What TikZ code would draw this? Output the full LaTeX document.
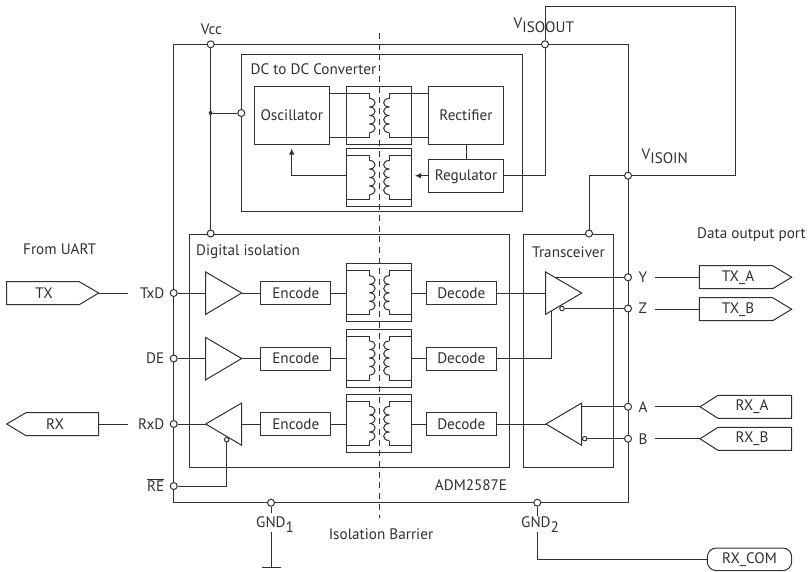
\documentclass[tikz,border=0pt]{standalone}
\usepackage{fontspec}
\usetikzlibrary{arrows.meta}
\setmainfont{PT Sans}
\definecolor{ink}{HTML}{303030}
\tikzset{
  wire/.style={draw=ink,line width=1pt},
  lbl/.style={text=ink,inner sep=0pt,font=\fontsize{15.2}{17}\selectfont},
  box/.style={draw=ink,line width=1pt,fill=white,inner sep=0pt,text=ink,font=\fontsize{15.2}{17}\selectfont},
  codec/.style={box,minimum width=70pt,minimum height=23pt},
  xbox/.style={draw=ink,line width=1pt,inner sep=0pt,minimum width=65pt,minimum height=58pt},
  pin/.style={circle,draw=ink,line width=1pt,fill=white,inner sep=0pt,minimum size=7pt},
  bub/.style={circle,draw=ink,line width=1pt,fill=white,inner sep=0pt,minimum size=4.5pt},
  dotpt/.style={circle,fill=ink,inner sep=0pt,minimum size=4pt},
  barrier/.style={draw=ink,line width=1pt,dash pattern=on 6pt off 4.7pt},
}
\newcommand{\xfmr}[2]{% name, ymid
  \node[xbox] (#1) at (379.2,#2) {};
  \draw[wire] (346.7,#2-22) -- (369.5,#2-22) -- (369.5,#2-17);
  \draw[wire] (346.7,#2+22) -- (369.5,#2+22) -- (369.5,#2+17);
  \draw[wire] (411.7,#2-22) -- (389.3,#2-22) -- (389.3,#2-17);
  \draw[wire] (411.7,#2+22) -- (389.3,#2+22) -- (389.3,#2+17);
  \foreach \k in {0,1,2,3}{
    \pgfmathsetmacro\ya{#2-17+8.5*\k}
    \pgfmathsetmacro\yb{\ya+8.5}
    \draw[wire] (369.5,\ya) .. controls (377,\ya) and (377,\yb) .. (369.5,\yb);
    \draw[wire] (389.3,\ya) .. controls (381.8,\ya) and (381.8,\yb) .. (389.3,\yb);
  }
}
\begin{document}
\begin{tikzpicture}[x=1pt,y=-1pt]
\useasboundingbox (0,0) rectangle (812,571);
% enclosures
\draw[wire] (173.7,44.3) rectangle (628,502.7);
\node[box,fill=none,anchor=north west,minimum width=280.4pt,minimum height=157pt] (dc) at (241.3,54) {};
\node[box,fill=none,anchor=north west,minimum width=319.7pt,minimum height=233.5pt] (dig) at (189,233.5) {};
\node[box,fill=none,anchor=north west,minimum width=90.3pt,minimum height=233.5pt] (trx) at (522.7,233.5) {};
% pins
\node[pin] (pvcc) at (210.7,44.3) {};
\node[pin] (piso) at (545,44.3) {};
\node[pin] (pin2) at (628,175.7) {};
\node[pin] (pdig) at (210.7,233.5) {};
\node[pin] (ptrx) at (589,233.5) {};
\node[pin] (pdc) at (241.3,113) {};
\node[dotpt] (vdot) at (210.7,113) {};
\node[pin] (ptxd) at (173.7,293) {};
\node[pin] (pde) at (173.7,358.5) {};
\node[pin] (prxd) at (173.7,424) {};
\node[pin] (pre) at (173.7,486) {};
\node[pin] (py) at (628,277.3) {};
\node[pin] (pz) at (628,308.5) {};
\node[pin] (pa) at (628,406.7) {};
\node[pin] (pb) at (628,438.7) {};
\node[pin] (pg1) at (271,502.7) {};
\node[pin] (pg2) at (537.3,502.7) {};
% DC-DC blocks
\node[box,minimum width=75pt,minimum height=57.7pt] (osc) at (291.8,115.2) {Oscillator};
\node[box,minimum width=74.6pt,minimum height=57.7pt] (rect) at (466,115.2) {Rectifier};
\node[box,minimum width=74.6pt,minimum height=32.7pt] (reg) at (466,176.3) {Regulator};
\xfmr{x1}{115.5}
\xfmr{x2}{177.5}
\draw[wire] (329.3,93.5) -- (346.7,93.5);
\draw[wire] (329.3,137.5) -- (346.7,137.5);
\draw[wire] (411.7,93.5) -- (428.7,93.5);
\draw[wire] (411.7,137.5) -- (428.7,137.5);
\draw[wire] (rect.south) -- (reg.north);
\coordinate (fbtip) at (291.7,148.5);
\draw[wire,-{Latex[length=6pt,width=5.5pt]}] (346.7,175.7) -- (291.7,175.7) -- (fbtip);
\coordinate (fbin) at (415,175.7);
\draw[wire,-{Latex[length=6pt,width=5.5pt]}] (reg.west |- fbin) -- (fbin);
\draw[wire] (reg.east |- fbin) -- (545,175.7) -- (piso.south);
\coordinate (loopa) at (545,6);
\coordinate (loopb) at (735.3,6);
\coordinate (loopc) at (735.3,175.7);
\draw[wire] (piso.north) -- (loopa) -- (loopb) -- (loopc) -- (pin2.east);
\draw[wire] (pin2.west) -- (589,175.7) -- (ptrx.north);
\draw[wire] (pvcc.south) -- (vdot) -- (pdig.north);
\draw[wire] (vdot) -- (pdc);
% transformers
\xfmr{xa}{292.8}
\xfmr{xb}{358}
\xfmr{xc}{423.5}
% encoders / decoders
\foreach \n/\y in {a/293,b/358.5,c/424}{
  \node[codec] (enc\n) at (295.8,\y) {Encode};
  \node[codec] (dec\n) at (461.3,\y) {Decode};
  \draw[wire] (enc\n.east) -- (x\n.west |- enc\n.east);
  \draw[wire] (x\n.east |- dec\n.west) -- (dec\n.west);
}
% left buffers
\coordinate (ta) at (205.7,293); \coordinate (tao) at (241.7,293);
\coordinate (tb) at (205.7,358.5); \coordinate (tbo) at (241.7,358.5);
\coordinate (tc) at (205.7,424); \coordinate (tco) at (241.7,424);
\draw[wire,fill=white] (205.7,272) -- (tao) -- (205.7,314.3) -- cycle;
\draw[wire,fill=white] (205.7,337.5) -- (tbo) -- (205.7,379.8) -- cycle;
\draw[wire,fill=white] (241.7,403) -- (tc) -- (241.7,445.3) -- cycle;
\draw[wire] (ptxd) -- (ta);
\draw[wire] (pde) -- (tb);
\draw[wire] (prxd) -- (tc);
\draw[wire] (tao) -- (enca.west);
\draw[wire] (tbo) -- (encb.west);
\draw[wire] (tco) -- (encc.west);
\node[bub] (bre) at (226.7,439.7) {};
\coordinate (rek) at (226.7,486);
\draw[wire] (pre) -- (rek) -- (bre);
% right buffers
\coordinate (td) at (545.7,293);
\coordinate (te) at (546,424);
\draw[wire,fill=white] (545.7,272) -- (581.7,293) -- (545.7,314.3) -- cycle;
\draw[wire,fill=white] (581.7,403) -- (te) -- (581.7,445.3) -- cycle;
\draw[wire] (deca.east) -- (td);
\draw[wire] (decc.east) -- (te);
\coordinate (tden) at (551.7,310.8);
\coordinate (tdk) at (551.7,358.5);
\draw[wire] (decb.east) -- (tdk) -- (tden);
\node[bub] (bz) at (562,308.5) {};
\node[bub] (bb) at (584.7,438.7) {};
\coordinate (yo) at (554.6,277.3);
\coordinate (ai) at (581.7,406.7);
\draw[wire] (yo) -- (py);
\draw[wire] (bz) -- (pz);
\draw[wire] (ai) -- (pa);
\draw[wire] (bb) -- (pb);
% signal tags
\draw[wire] (6.7,281.7) -- (79.3,281.7) -- (98.7,293) -- (79.3,304.7) -- (6.7,304.7) -- cycle;
\node[lbl] (ntx) at (44,293) {TX};
\draw[wire] (98.7,412.7) -- (26,412.7) -- (6.7,424) -- (26,435.7) -- (98.7,435.7) -- cycle;
\node[lbl] (nrx) at (55,424) {RX};
\draw[wire] (699.3,265.7) -- (772.7,265.7) -- (791.7,277.2) -- (772.7,288.7) -- (699.3,288.7) -- cycle;
\node[lbl] (ntxa) at (738,277.2) {TX\_A};
\draw[wire] (699.3,297.7) -- (772.7,297.7) -- (791.7,309.2) -- (772.7,320.7) -- (699.3,320.7) -- cycle;
\node[lbl] (ntxb) at (738,309.2) {TX\_B};
\draw[wire] (791.7,395.3) -- (718,395.3) -- (700,406.8) -- (718,418.3) -- (791.7,418.3) -- cycle;
\node[lbl] (nrxa) at (752,406.8) {RX\_A};
\draw[wire] (791.7,427.3) -- (718,427.3) -- (700,438.8) -- (718,450.3) -- (791.7,450.3) -- cycle;
\node[lbl] (nrxb) at (752,438.8) {RX\_B};
\coordinate (etx) at (128.3,293);
\coordinate (erx) at (128.3,424);
\coordinate (tagtx) at (98.7,293);
\coordinate (tagrx) at (98.7,424);
\draw[wire] (tagtx) -- (etx);
\draw[wire] (tagrx) -- (erx);
\coordinate (oy) at (655,277.2); \coordinate (oyt) at (699.3,277.2);
\coordinate (oz) at (655,309.2); \coordinate (ozt) at (699.3,309.2);
\coordinate (oa) at (655,406.8); \coordinate (oat) at (700,406.8);
\coordinate (ob) at (655,438.8); \coordinate (obt) at (700,438.8);
\draw[wire] (oy) -- (oyt);
\draw[wire] (oz) -- (ozt);
\draw[wire] (oa) -- (oat);
\draw[wire] (ob) -- (obt);
% grounds
\coordinate (g1a) at (271,513);
\coordinate (g1b) at (271,531.7);
\coordinate (g1c) at (271,567.3);
\coordinate (g1l) at (261.7,567.3);
\coordinate (g1r) at (280.7,567.3);
\draw[wire] (pg1) -- (g1a);
\draw[wire] (g1b) -- (g1c);
\draw[wire] (g1l) -- (g1r);
\coordinate (g2a) at (537.3,516);
\coordinate (g2b) at (537.3,531.7);
\coordinate (g2c) at (537.3,559.3);
\draw[wire] (pg2) -- (g2a);
\node[box,rounded corners=9pt,minimum width=84.4pt,minimum height=22.6pt] (com) at (749.5,559.3) {RX\_COM};
\draw[wire] (g2b) -- (g2c) -- (com);
% barrier
\coordinate (ba) at (379.2,33);
\coordinate (bb2) at (379.2,518);
\draw[barrier] (ba) -- (bb2);
% labels
\node[lbl] (lvcc) at (211.5,29) {Vcc};
\node[lbl,anchor=base west] (lvo) at (513.5,28) {V\raisebox{-4.5pt}{ISOOUT}};
\node[lbl,anchor=base west] (lvi) at (641.5,159) {V\raisebox{-4.5pt}{ISOIN}};
\node[lbl,anchor=west] (ldc) at (250.5,69) {DC to DC Converter};
\node[lbl,anchor=west] (ldi) at (196,252) {Digital isolation};
\node[lbl,anchor=west] (ltr) at (532,252) {Transceiver};
\node[lbl,anchor=west] (luart) at (23,249) {From UART};
\node[lbl,anchor=west] (lout) at (697,235) {Data output port};
\node[lbl,anchor=east] (ltxd) at (164.5,293) {TxD};
\node[lbl,anchor=east] (lde) at (164.5,358.5) {DE};
\node[lbl,anchor=east] (lrxd) at (164.5,424) {RxD};
\node[lbl,anchor=east] (lre) at (164.5,485) {$\overline{\mbox{RE}}$};
\node[lbl,anchor=west] (ly) at (638.5,277.5) {Y};
\node[lbl,anchor=west] (lz) at (638.5,308.5) {Z};
\node[lbl,anchor=west] (la) at (638.5,407) {A};
\node[lbl,anchor=west] (lb) at (638.5,439) {B};
\node[lbl] (ladm) at (471,485) {ADM2587E};
\node[lbl] (liso) at (381,534) {Isolation Barrier};
\node[lbl,anchor=base west] (lg1) at (256,527.5) {GND\raisebox{-4.5pt}{1}};
\node[lbl,anchor=base west] (lg2) at (521,527.5) {GND\raisebox{-4.5pt}{2}};
\end{tikzpicture}
\end{document}
